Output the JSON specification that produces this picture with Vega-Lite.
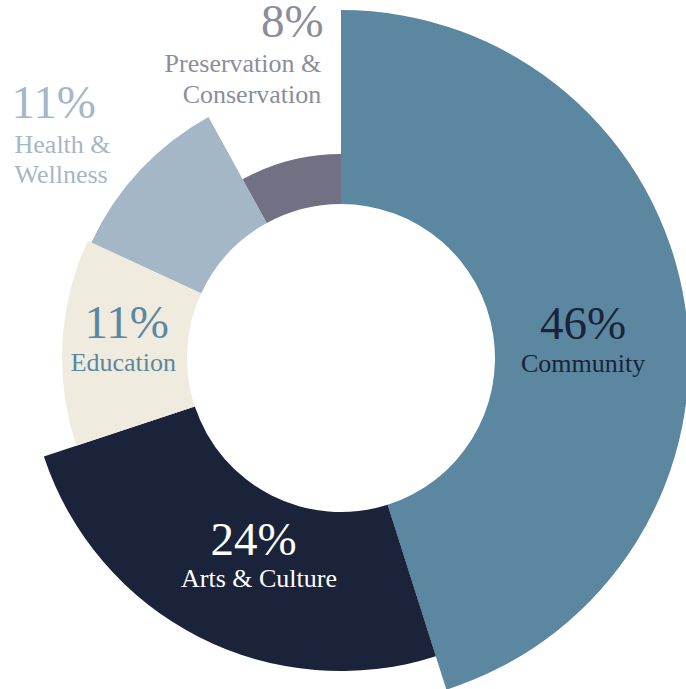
{
  "$schema": "https://vega.github.io/schema/vega-lite/v6.json",
  "width": 682,
  "height": 716,
  "autosize": {"type": "none"},
  "padding": {"left": 0, "top": 0, "right": 10, "bottom": 0},
  "background": "white",
  "config": {"view": {"stroke": null}, "text": {"font": "Liberation Serif"}},
  "data": {
    "values": [
      {"category": "Community", "value": 45.1, "outer": 100, "pct": "46%", "name": "Community"},
      {"category": "Arts & Culture", "value": 24.8, "outer": 82, "pct": "24%", "name": "Arts & Culture"},
      {"category": "Education", "value": 12.0, "outer": 64.4, "pct": "11%", "name": "Education"},
      {"category": "Health & Wellness", "value": 10.1, "outer": 62.4, "pct": "11%", "name": "Health &\nWellness"},
      {"category": "Preservation & Conservation", "value": 8.0, "outer": 25.8, "pct": "8%", "name": "Preservation &\nConservation"}
    ]
  },
  "encoding": {
    "theta": {"field": "value", "type": "quantitative", "stack": true, "scale": {"domain": [0, 100]}},
    "order": {"field": "value", "type": "quantitative", "sort": "descending"},
    "detail": {"field": "category", "type": "nominal"}
  },
  "layer": [
    {
      "transform": [
        {"stack": "value", "groupby": [], "sort": [{"field": "value", "order": "descending"}], "as": ["v0", "v1"]}
      ],
      "mark": {"type": "arc", "innerRadius": 154},
      "encoding": {
        "theta": {"field": "v0", "type": "quantitative", "stack": null},
        "theta2": {"field": "v1"},
        "radius": {"field": "outer", "type": "quantitative", "scale": {"type": "linear", "domain": [0, 100], "range": [154, 348]}},
        "color": {"field": "category", "type": "nominal", "legend": null,
          "scale": {"domain": ["Community", "Arts & Culture", "Education", "Health & Wellness", "Preservation & Conservation"],
                    "range": ["#5B87A0", "#1A2339", "#F0EBDF", "#A4B7C7", "#717183"]}}
      }
    },
    {
      "mark": {"type": "text", "radius": 245, "dx": 0, "dy": 18.6, "align": "center", "baseline": "alphabetic", "fontSize": 47, "color": "#1A2339"},
      "encoding": {"text": {"condition": {"test": "datum.category === 'Community'", "field": "pct", "type": "nominal"}, "value": ""}}
    },
    {
      "mark": {"type": "text", "radius": 245, "dx": 0, "dy": 51.6, "align": "center", "baseline": "alphabetic", "fontSize": 26, "color": "#1A2339"},
      "encoding": {"text": {"condition": {"test": "datum.category === 'Community'", "field": "name", "type": "nominal"}, "value": ""}}
    },
    {
      "mark": {"type": "text", "radius": 200, "dx": 3.5, "dy": 18.8, "align": "center", "baseline": "alphabetic", "fontSize": 47, "color": "#FFFFFF"},
      "encoding": {"text": {"condition": {"test": "datum.category === 'Arts & Culture'", "field": "pct", "type": "nominal"}, "value": ""}}
    },
    {
      "mark": {"type": "text", "radius": 200, "dx": 8.8, "dy": 51, "align": "center", "baseline": "alphabetic", "fontSize": 26, "color": "#FFFFFF"},
      "encoding": {"text": {"condition": {"test": "datum.category === 'Arts & Culture'", "field": "name", "type": "nominal"}, "value": ""}}
    },
    {
      "mark": {"type": "text", "radius": 215, "dx": 0.4, "dy": -7.6, "align": "center", "baseline": "alphabetic", "fontSize": 47, "color": "#5B87A0"},
      "encoding": {"text": {"condition": {"test": "datum.category === 'Education'", "field": "pct", "type": "nominal"}, "value": ""}}
    },
    {
      "mark": {"type": "text", "radius": 215, "dx": -3, "dy": 25.1, "align": "center", "baseline": "alphabetic", "fontSize": 26, "color": "#5B87A0"},
      "encoding": {"text": {"condition": {"test": "datum.category === 'Education'", "field": "name", "type": "nominal"}, "value": ""}}
    },
    {
      "mark": {"type": "text", "radius": 340, "dx": -80.9, "dy": -7.8, "align": "left", "baseline": "alphabetic", "fontSize": 47, "color": "#A4B7C7"},
      "encoding": {"text": {"condition": {"test": "datum.category === 'Health & Wellness'", "field": "pct", "type": "nominal"}, "value": ""}}
    },
    {
      "mark": {"type": "text", "radius": 340, "dx": -77.9, "dy": 27.2, "align": "left", "baseline": "alphabetic", "fontSize": 26, "lineHeight": 30, "lineBreak": "\n", "color": "#A4B7C7"},
      "encoding": {"text": {"condition": {"test": "datum.category === 'Health & Wellness'", "field": "name", "type": "nominal"}, "value": ""}}
    },
    {
      "mark": {"type": "text", "radius": 300, "dx": 57.3, "dy": -30.2, "align": "right", "baseline": "alphabetic", "fontSize": 47, "color": "#8B8D9B"},
      "encoding": {"text": {"condition": {"test": "datum.category === 'Preservation & Conservation'", "field": "pct", "type": "nominal"}, "value": ""}}
    },
    {
      "mark": {"type": "text", "radius": 300, "dx": 54.9, "dy": 4.3, "align": "right", "baseline": "alphabetic", "fontSize": 26, "lineHeight": 31.5, "lineBreak": "\n", "color": "#8B8D9B"},
      "encoding": {"text": {"condition": {"test": "datum.category === 'Preservation & Conservation'", "field": "name", "type": "nominal"}, "value": ""}}
    }
  ]
}
